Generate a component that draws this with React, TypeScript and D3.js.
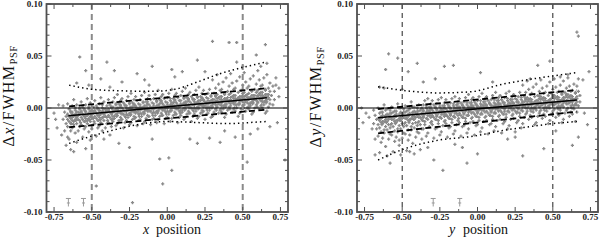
import React from "react";
import * as d3 from "d3";

// ---------- data ----------
const xMajorTicks = [-0.75, -0.5, -0.25, 0, 0.25, 0.5, 0.75];
const yMajorTicks = [-0.1, -0.05, 0, 0.05, 0.1];
const xDomain = [-0.8, 0.8];
const yDomain = [-0.1, 0.1];

// scatter points, flat pairs: [x in 0.01 units, y in 0.001 units]
const leftPoints = [
  -68,-22,-67,-15,-69,-11,-67,-8,-68,-4,-69,2,
  -65,-30,-64,-22,-66,-18,-64,-15,-65,-13,-66,-11,-64,-10,-65,-8,-66,-6,-64,-4,-65,-1,-66,4,
  -61,-24,-63,-19,-62,-16,-62,-13,-61,-11,-63,-9,-62,-8,-61,-6,-63,-4,-61,-2,-63,2,-62,8,
  -60,-33,-59,-22,-58,-18,-60,-15,-58,-12,-59,-11,-60,-8,-59,-7,-58,-5,-59,-4,-58,-1,-60,3,
  -56,-28,-55,-20,-57,-16,-55,-13,-56,-11,-57,-9,-55,-8,-56,-6,-57,-4,-55,-2,-56,1,-57,6,
  -52,-23,-54,-18,-53,-15,-53,-12,-52,-10,-54,-8,-53,-7,-52,-5,-54,-3,-52,-1,-54,3,-53,9,
  -51,-31,-50,-20,-49,-16,-51,-13,-49,-10,-50,-9,-51,-6,-50,-5,-49,-3,-50,-2,-49,1,-51,5,
  -47,-27,-46,-19,-48,-15,-46,-12,-47,-10,-48,-8,-46,-7,-47,-5,-48,-3,-46,-1,-47,2,-48,7,
  -43,-22,-45,-17,-44,-14,-44,-11,-43,-9,-45,-7,-44,-6,-43,-4,-45,-2,-43,0,-45,4,-44,10,
  -42,-30,-41,-19,-40,-15,-42,-12,-40,-9,-41,-8,-42,-5,-41,-4,-40,-2,-41,-1,-40,2,-42,6,
  -38,-26,-37,-18,-39,-14,-37,-11,-38,-9,-39,-7,-37,-6,-38,-4,-39,-2,-37,0,-38,3,-39,8,
  -34,-17,-36,-13,-35,-10,-35,-8,-34,-6,-36,-4,-35,-3,-34,-1,-36,1,-34,3,-36,6,-35,10,
  -33,-15,-32,-12,-31,-9,-33,-7,-31,-5,-32,-4,-33,-2,-32,0,-31,2,-32,4,-31,7,-33,13,
  -29,-19,-28,-14,-30,-11,-28,-8,-29,-6,-30,-5,-28,-3,-29,-2,-30,0,-28,2,-29,5,-30,9,
  -25,-16,-27,-12,-26,-9,-26,-7,-25,-5,-27,-3,-26,-2,-25,0,-27,2,-25,4,-27,7,-26,11,
  -24,-14,-23,-11,-22,-8,-24,-6,-22,-4,-23,-3,-24,-1,-23,1,-22,3,-23,5,-22,8,-24,14,
  -20,-17,-19,-12,-21,-9,-19,-6,-20,-4,-21,-3,-19,-1,-20,0,-21,2,-19,4,-20,7,-21,11,
  -16,-15,-18,-11,-17,-8,-17,-6,-16,-4,-18,-2,-17,-1,-16,1,-18,3,-16,5,-18,8,-17,12,
  -15,-13,-14,-10,-13,-7,-15,-5,-13,-3,-14,-2,-15,0,-14,2,-13,4,-14,6,-13,9,-15,15,
  -11,-16,-10,-11,-12,-8,-10,-5,-11,-3,-12,-2,-10,0,-11,1,-12,3,-10,5,-11,8,-12,12,
  -7,-14,-9,-10,-8,-7,-8,-5,-7,-3,-9,-1,-8,0,-7,2,-9,4,-7,6,-9,9,-8,13,
  -6,-11,-5,-8,-4,-5,-6,-3,-4,-1,-5,0,-6,2,-5,4,-4,6,-5,8,-4,11,-6,17,
  -2,-15,-1,-10,-3,-7,-1,-4,-2,-2,-3,-1,-1,1,-2,2,-3,4,-1,6,-2,9,-3,13,
  2,-13,0,-9,1,-6,1,-4,2,-2,0,0,1,1,2,3,0,5,2,7,0,10,1,14,
  3,-10,4,-7,5,-4,3,-2,5,0,4,1,3,3,4,5,5,7,4,9,5,12,3,18,
  7,-14,8,-9,6,-6,8,-3,7,-1,6,0,8,2,7,3,6,5,8,7,7,10,6,14,
  11,-11,9,-7,10,-4,10,-2,11,0,9,2,10,3,11,5,9,7,11,9,9,12,10,16,
  12,-9,13,-6,14,-3,12,-1,14,1,13,2,12,4,13,6,14,8,13,10,14,13,12,19,
  16,-13,17,-8,15,-5,17,-2,16,0,15,1,17,3,16,4,15,6,17,8,16,11,15,15,
  20,-10,18,-6,19,-3,19,-1,20,1,18,3,19,4,20,6,18,8,20,10,18,13,19,17,
  21,-8,22,-5,23,-2,21,0,23,2,22,3,21,5,22,7,23,9,22,11,23,14,21,20,
  25,-11,26,-6,24,-3,26,0,25,2,24,3,26,5,25,6,24,8,26,10,25,13,24,17,
  29,-9,27,-5,28,-2,28,0,29,2,27,4,28,5,29,7,27,9,29,11,27,14,28,18,
  30,-8,31,-4,32,-1,30,1,32,3,31,5,30,6,31,8,32,11,31,14,32,19,30,27,
  34,-5,35,-2,33,1,35,3,34,5,33,7,35,8,34,10,33,13,35,17,34,23,33,32,
  38,-9,36,-4,37,-1,37,2,38,3,36,5,37,7,38,9,36,11,38,14,36,18,37,25,
  39,-6,40,-2,41,1,39,3,41,5,40,7,39,8,40,10,41,13,40,16,41,21,39,29,
  43,-4,44,-1,42,2,44,4,43,6,42,8,44,9,43,11,42,14,44,18,43,24,42,33,
  47,-8,45,-3,46,0,46,3,47,4,45,6,46,8,47,10,45,12,47,15,45,19,46,26,
  48,-5,49,-1,50,2,48,4,50,6,49,8,48,9,49,11,50,14,49,17,50,22,48,30,
  52,-3,53,0,51,3,53,5,52,7,51,9,53,10,52,12,51,15,53,19,52,25,51,34,
  56,-6,54,-1,55,2,55,5,56,6,54,8,55,10,56,12,54,14,56,17,54,21,55,28,
  57,-4,58,0,59,3,57,5,59,7,58,9,57,10,58,12,59,15,58,18,59,23,57,31,
  61,-1,62,2,60,5,62,7,61,9,60,11,62,12,61,14,60,17,62,21,61,27,60,36,
  65,-5,63,0,64,3,64,6,65,7,63,9,64,11,65,13,63,15,65,18,63,22,64,29,
  66,-3,67,1,68,4,66,6,68,8,67,10,66,11,67,13,68,16,67,19,68,24,66,32,
  70,3,71,8,69,12,71,16,70,21,72,29,
];
// dense core of the left cloud
const leftCore = [
  -63.5,-15,-63,-12,-64,-9,-63,-6,-64,-3,
  -60.5,-12,-60,-9,-61,-6,-60,-4,-61,0,
  -57.5,-14,-57,-9,-58,-6,-57,-3,-58,0,
  -54.5,-13,-54,-10,-55,-7,-54,-4,-55,-1,
  -51.5,-11,-51,-8,-52,-5,-51,-3,-52,1,
  -48.5,-13,-48,-8,-49,-5,-48,-2,-49,1,
  -45.5,-12,-45,-9,-46,-6,-45,-3,-46,0,
  -42.5,-9,-42,-6,-43,-3,-42,-1,-43,3,
  -39.5,-12,-39,-7,-40,-4,-39,-1,-40,2,
  -36.5,-11,-36,-8,-37,-5,-36,-2,-37,1,
  -33.5,-8,-33,-5,-34,-2,-33,0,-34,4,
  -30.5,-11,-30,-6,-31,-3,-30,0,-31,3,
  -27.5,-9,-27,-6,-28,-3,-27,0,-28,3,
  -24.5,-7,-24,-4,-25,-1,-24,1,-25,5,
  -21.5,-10,-21,-5,-22,-2,-21,1,-22,4,
  -18.5,-8,-18,-5,-19,-2,-18,1,-19,4,
  -15.5,-6,-15,-3,-16,0,-15,2,-16,6,
  -12.5,-8,-12,-3,-13,0,-12,3,-13,6,
  -9.5,-7,-9,-4,-10,-1,-9,2,-10,5,
  -6.5,-5,-6,-2,-7,1,-6,3,-7,7,
  -3.5,-7,-3,-2,-4,1,-3,4,-4,7,
  -0.5,-6,0,-3,-1,0,0,3,-1,6,
  2.5,-3,3,0,2,3,3,5,2,9,
  5.5,-6,6,-1,5,2,6,5,5,8,
  8.5,-5,9,-2,8,1,9,4,8,7,
  11.5,-2,12,1,11,4,12,6,11,10,
  14.5,-5,15,0,14,3,15,6,14,9,
  17.5,-3,18,0,17,3,18,6,17,9,
  20.5,-1,21,2,20,5,21,7,20,11,
  23.5,-4,24,1,23,4,24,7,23,10,
  26.5,-2,27,1,26,4,27,7,26,10,
  29.5,0,30,3,29,6,30,8,29,12,
  32.5,-2,33,3,32,6,33,9,32,12,
  35.5,-1,36,2,35,5,36,8,35,11,
  38.5,1,39,4,38,7,39,9,38,13,
  41.5,-1,42,4,41,7,42,10,41,13,
  44.5,0,45,3,44,6,45,9,44,12,
  47.5,3,48,6,47,9,48,11,47,15,
  50.5,0,51,5,50,8,51,11,50,14,
  53.5,1,54,4,53,7,54,10,53,13,
  56.5,4,57,7,56,10,57,12,56,16,
  59.5,1,60,6,59,9,60,12,59,15,
  62.5,3,63,6,62,9,63,12,62,15,
  65.5,5,66,8,65,11,66,13,65,17,
];
const leftOutliers = [
  -58,49,-40,44,-54,36,-35,36,-20,33,-10,40,3,37,10,35,20,46,30,64,41,63,46,63,65,61,59,51,46,44,66,43,
  74,19,74,11,78,-50,-5,-49,1,-48,3,-60,-3,-73,-47,-75,-23,-91,-62,-42,-54,-39,53,-52,20,-34,28,-29,
  -32,-34,-75,-5,-73,-19,-70,-26,-72,3,-74,-11,-44,28,-30,25,-15,27,5,30,15,-30,35,-33,45,-28,-25,-38,
  -10,-30,60,-20,68,-18,72,22,73,-14,-67,-36,-64,-40,-60,24,-52,22,-38,20,-12,22,38,-22,55,-25,50,40,
  25,35,62,40,-66,-28,
];

const rightPoints = [
  -68,-30,-67,-20,-69,-15,-67,-11,-68,-7,-69,-2,
  -65,-43,-64,-33,-66,-27,-64,-23,-65,-19,-66,-16,-64,-14,-65,-12,-66,-10,-64,-8,-65,-5,-66,0,
  -61,-37,-63,-29,-62,-24,-62,-21,-61,-18,-63,-15,-62,-13,-61,-11,-63,-9,-61,-7,-63,-4,-62,3,
  -60,-46,-59,-30,-58,-25,-60,-21,-58,-19,-59,-16,-60,-13,-59,-11,-58,-9,-59,-7,-58,-5,-60,-1,
  -56,-42,-55,-32,-57,-26,-55,-22,-56,-18,-57,-15,-55,-13,-56,-11,-57,-9,-55,-7,-56,-4,-57,1,
  -52,-36,-54,-28,-53,-23,-53,-20,-52,-17,-54,-14,-53,-12,-52,-10,-54,-8,-52,-6,-54,-3,-53,4,
  -51,-45,-50,-29,-49,-24,-51,-20,-49,-18,-50,-15,-51,-12,-50,-10,-49,-8,-50,-6,-49,-4,-51,0,
  -47,-41,-46,-31,-48,-25,-46,-21,-47,-17,-48,-14,-46,-12,-47,-10,-48,-8,-46,-6,-47,-3,-48,2,
  -43,-34,-45,-26,-44,-21,-44,-18,-43,-15,-45,-12,-44,-10,-43,-8,-45,-6,-43,-4,-45,-1,-44,6,
  -42,-44,-41,-28,-40,-23,-42,-19,-40,-17,-41,-14,-42,-11,-41,-9,-40,-7,-41,-5,-40,-3,-42,1,
  -38,-40,-37,-30,-39,-24,-37,-20,-38,-16,-39,-13,-37,-11,-38,-9,-39,-7,-37,-5,-38,-2,-39,3,
  -34,-27,-36,-20,-35,-16,-35,-13,-34,-10,-36,-8,-35,-6,-34,-4,-36,-2,-34,0,-36,3,-35,7,
  -33,-24,-32,-18,-31,-14,-33,-11,-31,-9,-32,-7,-33,-5,-32,-3,-31,-1,-32,1,-31,4,-33,9,
  -29,-29,-28,-20,-30,-16,-28,-11,-29,-9,-30,-7,-28,-5,-29,-4,-30,-2,-28,0,-29,3,-30,7,
  -25,-26,-27,-19,-26,-15,-26,-12,-25,-9,-27,-7,-26,-5,-25,-3,-27,-1,-25,1,-27,4,-26,8,
  -24,-23,-23,-17,-22,-13,-24,-10,-22,-8,-23,-6,-24,-4,-23,-2,-22,0,-23,2,-22,5,-24,10,
  -20,-28,-19,-19,-21,-15,-19,-10,-20,-8,-21,-6,-19,-4,-20,-3,-21,-1,-19,1,-20,4,-21,8,
  -16,-25,-18,-18,-17,-14,-17,-11,-16,-8,-18,-6,-17,-4,-16,-2,-18,0,-16,2,-18,5,-17,9,
  -15,-22,-14,-16,-13,-12,-15,-9,-13,-7,-14,-5,-15,-3,-14,-1,-13,1,-14,3,-13,6,-15,11,
  -11,-27,-10,-18,-12,-14,-10,-9,-11,-7,-12,-5,-10,-3,-11,-2,-12,0,-10,2,-11,5,-12,9,
  -7,-24,-9,-17,-8,-13,-8,-10,-7,-7,-9,-5,-8,-3,-7,-1,-9,1,-7,3,-9,6,-8,10,
  -6,-20,-5,-14,-4,-10,-6,-7,-4,-5,-5,-3,-6,-1,-5,1,-4,3,-5,5,-4,8,-6,13,
  -2,-26,-1,-17,-3,-13,-1,-8,-2,-6,-3,-4,-1,-2,-2,-1,-3,1,-1,3,-2,6,-3,10,
  2,-23,0,-16,1,-12,1,-9,2,-6,0,-4,1,-2,2,0,0,2,2,4,0,7,1,11,
  3,-19,4,-13,5,-9,3,-6,5,-4,4,-2,3,0,4,2,5,4,4,6,5,9,3,14,
  7,-25,8,-16,6,-12,8,-7,7,-5,6,-3,8,-1,7,0,6,2,8,4,7,7,6,11,
  11,-22,9,-15,10,-11,10,-8,11,-5,9,-3,10,-1,11,1,9,3,11,5,9,8,10,12,
  12,-18,13,-12,14,-8,12,-5,14,-3,13,-1,12,1,13,3,14,5,13,7,14,10,12,15,
  16,-24,17,-15,15,-11,17,-6,16,-4,15,-2,17,0,16,1,15,3,17,5,16,8,15,12,
  20,-20,18,-13,19,-9,19,-6,20,-3,18,-1,19,1,20,3,18,5,20,7,18,10,19,14,
  21,-17,22,-11,23,-7,21,-4,23,-2,22,0,21,2,22,4,23,6,22,8,23,11,21,16,
  25,-23,26,-14,24,-10,26,-5,25,-3,24,-1,26,1,25,2,24,4,26,6,25,9,24,13,
  29,-19,27,-12,28,-8,28,-5,29,-2,27,0,28,2,29,4,27,6,29,8,27,11,28,15,
  30,-15,31,-9,32,-6,30,-3,32,0,31,2,30,4,31,6,32,8,31,11,32,15,30,22,
  34,-11,35,-7,33,-3,35,-1,34,2,33,4,35,6,34,8,33,10,35,13,34,18,33,26,
  38,-16,36,-9,37,-4,37,-1,38,1,36,3,37,4,38,6,36,8,38,11,36,14,37,20,
  39,-14,40,-8,41,-5,39,-2,41,1,40,3,39,5,40,7,41,9,40,12,41,16,39,23,
  43,-10,44,-6,42,-2,44,0,43,3,42,5,44,7,43,9,42,11,44,14,43,19,42,27,
  47,-15,45,-8,46,-3,46,0,47,2,45,4,46,5,47,7,45,9,47,12,45,15,46,21,
  48,-12,49,-6,50,-3,48,0,50,3,49,5,48,7,49,9,50,11,49,14,50,18,48,25,
  52,-9,53,-5,51,-1,53,1,52,4,51,6,53,8,52,10,51,12,53,15,52,20,51,28,
  56,-14,54,-7,55,-2,55,1,56,3,54,5,55,6,56,8,54,10,56,13,54,16,55,22,
  57,-11,58,-5,59,-2,57,1,59,4,58,6,57,8,58,10,59,12,58,15,59,19,57,26,
  61,-8,62,-4,60,0,62,2,61,5,60,7,62,9,61,11,60,13,62,16,61,21,60,29,
  65,-13,63,-6,64,-1,64,2,65,4,63,6,64,7,65,9,63,11,65,14,63,17,64,23,
  66,-4,67,2,68,6,66,9,68,12,67,16,66,21,67,28,
];
// dense core of the right cloud
const rightCore = [
  -63.5,-16,-63,-13,-64,-10,-63,-7,-64,-4,
  -60.5,-14,-60,-11,-61,-8,-60,-6,-61,-2,
  -57.5,-16,-57,-11,-58,-8,-57,-5,-58,-2,
  -54.5,-15,-54,-12,-55,-9,-54,-6,-55,-3,
  -51.5,-12,-51,-9,-52,-6,-51,-4,-52,0,
  -48.5,-15,-48,-10,-49,-7,-48,-4,-49,-1,
  -45.5,-14,-45,-11,-46,-8,-45,-5,-46,-2,
  -42.5,-11,-42,-8,-43,-5,-42,-3,-43,1,
  -39.5,-14,-39,-9,-40,-6,-39,-3,-40,0,
  -36.5,-12,-36,-9,-37,-6,-36,-3,-37,0,
  -33.5,-10,-33,-7,-34,-4,-33,-2,-34,2,
  -30.5,-13,-30,-8,-31,-5,-30,-2,-31,1,
  -27.5,-11,-27,-8,-28,-5,-27,-2,-28,1,
  -24.5,-9,-24,-6,-25,-3,-24,-1,-25,3,
  -21.5,-12,-21,-7,-22,-4,-21,-1,-22,2,
  -18.5,-10,-18,-7,-19,-4,-18,-1,-19,2,
  -15.5,-8,-15,-5,-16,-2,-15,0,-16,4,
  -12.5,-10,-12,-5,-13,-2,-12,1,-13,4,
  -9.5,-9,-9,-6,-10,-3,-9,0,-10,3,
  -6.5,-7,-6,-4,-7,-1,-6,1,-7,5,
  -3.5,-9,-3,-4,-4,-1,-3,2,-4,5,
  -0.5,-8,0,-5,-1,-2,0,1,-1,4,
  2.5,-5,3,-2,2,1,3,3,2,7,
  5.5,-8,6,-3,5,0,6,3,5,6,
  8.5,-7,9,-4,8,-1,9,2,8,5,
  11.5,-4,12,-1,11,2,12,4,11,8,
  14.5,-7,15,-2,14,1,15,4,14,7,
  17.5,-6,18,-3,17,0,18,3,17,6,
  20.5,-3,21,0,20,3,21,5,20,9,
  23.5,-6,24,-1,23,2,24,5,23,8,
  26.5,-4,27,-1,26,2,27,5,26,8,
  29.5,-2,30,1,29,4,30,6,29,10,
  32.5,-5,33,0,32,3,33,6,32,9,
  35.5,-3,36,0,35,3,36,6,35,9,
  38.5,-1,39,2,38,5,39,7,38,11,
  41.5,-3,42,2,41,5,42,8,41,11,
  44.5,-2,45,1,44,4,45,7,44,10,
  47.5,0,48,3,47,6,48,8,47,12,
  50.5,-2,51,3,50,6,51,9,50,12,
  53.5,-1,54,2,53,5,54,8,53,11,
  56.5,2,57,5,56,8,57,10,56,14,
  59.5,-1,60,4,59,7,60,10,59,13,
  62.5,0,63,3,62,6,63,9,62,12,
  65.5,3,66,6,65,9,66,11,65,15,
];
const rightOutliers = [
  -59,52,-53,48,-61,37,-40,43,-46,35,-28,28,-22,40,-16,41,2,34,40,41,48,45,66,73,67,69,74,35,73,-16,
  67,-28,63,-36,44,-39,30,-46,0,-44,-7,-53,-29,-50,-23,-60,-52,-31,-77,0,-76,-14,-74,-5,-68,-45,
  -58,-53,-70,-20,-72,-9,-65,20,-62,19,-36,25,-10,-38,20,-30,70,27,71,-5,55,30,60,32,-45,-42,-33,-38,
  10,25,35,28,-50,18,52,-22,25,-28,-15,-35,
];

// fitted relations [x, y]
const leftFit = [[-0.655, -0.0075], [0.66, 0.0099]];
const leftDashHi = [[-0.65, 0.0015], [0.66, 0.019]];
const leftDashLo = [[-0.65, -0.0185], [0.66, -0.0015]];
const leftDotHi = [[-0.65, 0.022], [-0.5, 0.018], [-0.3, 0.0165], [-0.1, 0.016], [0.05, 0.018], [0.2, 0.025], [0.35, 0.033], [0.5, 0.039], [0.65, 0.044]];
const leftDotLo = [[-0.65, -0.034], [-0.5, -0.027], [-0.35, -0.021], [-0.2, -0.016], [0, -0.013], [0.2, -0.014], [0.4, -0.015], [0.6, -0.0135], [0.66, -0.013]];

const rightFit = [[-0.66, -0.0093], [0.66, 0.0077]];
const rightDashHi = [[-0.66, -0.001], [0.66, 0.0173]];
const rightDashLo = [[-0.66, -0.0244], [0.66, -0.0035]];
const rightDotHi = [[-0.66, 0.0205], [-0.48, 0.0167], [-0.26, 0.0145], [-0.05, 0.0155], [0.17, 0.023], [0.39, 0.0285], [0.66, 0.034]];
const rightDotLo = [[-0.66, -0.05], [-0.48, -0.039], [-0.26, -0.031], [-0.02, -0.027], [0.15, -0.022], [0.37, -0.0175], [0.5, -0.015], [0.66, -0.013]];

// upper-limit markers (x positions) at y = -0.087
const leftLimits = [-0.655, -0.555];
const rightLimits = [-0.294, -0.118];
const limitY = -0.087;

const cutLines = [-0.5, 0.5];

const SERIF = "Liberation Serif";
const FRAME = "#505050";
const PTS = "#8a8a8a";

function Panel(props: {
  x0: number; x1: number;
  pts: number[];
  fit: number[][]; dHi: number[][]; dLo: number[][]; oHi: number[][]; oLo: number[][];
  limits: number[];
  cutStyle: { stroke: string; width: number; dash: string };
  varName: string;
  ylab: { x: number; y: number };
  xlab: { vx: number; px: number };
}) {
  const { x0, x1 } = props;
  const y0 = 4, y1 = 212;
  const x = d3.scaleLinear().domain(xDomain).range([x0, x1]);
  const y = d3.scaleLinear().domain(yDomain).range([y1, y0]);
  const line = d3.line<number[]>().x((d) => x(d[0])).y((d) => y(d[1]));
  const curve = d3.line<number[]>().x((d) => x(d[0])).y((d) => y(d[1])).curve(d3.curveMonotoneX);

  const all = props.pts;
  let dp = "";
  for (let i = 0; i < all.length; i += 2) {
    const px = x(all[i] / 100), py = y(all[i + 1] / 1000);
    dp += `M${(px - 1.6).toFixed(1)},${py.toFixed(1)}h3.2M${px.toFixed(1)},${(py - 1.6).toFixed(1)}v3.2`;
  }

  const xMinor = d3.range(-0.75, 0.76, 0.125);
  const yMinor = d3.range(-0.1, 0.1001, 0.01);
  const isMajorY = (v: number) => Math.abs(Math.round(v * 100) % 5) === 0;
  const isMajorX = (v: number) => Math.abs(Math.round(v * 8) % 2) === 0;
  const fmt = (v: number) => d3.format(".2f")(v).replace("\u2212", "-");

  return (
    <g>
      <path d={dp} stroke={PTS} strokeWidth={1.3} fill="none" />
      <line x1={x0} x2={x1} y1={y(0)} y2={y(0)} stroke="#000" strokeWidth={1} />
      {cutLines.map((c) => (
        <line key={c} x1={x(c)} x2={x(c)} y1={y0} y2={y1} stroke={props.cutStyle.stroke}
          strokeWidth={props.cutStyle.width} strokeDasharray={props.cutStyle.dash} />
      ))}
      <path d={line(props.fit) || ""} stroke="#000" strokeWidth={1.6} fill="none" />
      <path d={line(props.dHi) || ""} stroke="#000" strokeWidth={1.8} strokeDasharray="6 3.5" fill="none" />
      <path d={line(props.dLo) || ""} stroke="#000" strokeWidth={1.8} strokeDasharray="6 3.5" fill="none" />
      <path d={curve(props.oHi) || ""} stroke="#000" strokeWidth={1.5} strokeDasharray="1.4 3" fill="none" />
      <path d={curve(props.oLo) || ""} stroke="#000" strokeWidth={1.5} strokeDasharray="1.4 3" fill="none" />
      {props.limits.map((l) => {
        const lx = x(l), ly = y(limitY);
        return (
          <g key={l} stroke="#9a9a9a" strokeWidth={1} fill="none">
            <line x1={lx - 2.5} x2={lx + 2.5} y1={ly} y2={ly} />
            <line x1={lx} x2={lx} y1={ly} y2={ly + 8} />
            <line x1={lx - 1.5} x2={lx + 1.5} y1={ly + 4.5} y2={ly + 4.5} />
          </g>
        );
      })}
      <rect x={x0} y={y0} width={x1 - x0} height={y1 - y0} fill="none" stroke={FRAME} strokeWidth={1.8} />
      <g stroke={FRAME} strokeWidth={1}>
        {xMinor.map((v) => {
          const t = isMajorX(v) ? 5 : 3;
          return (
            <g key={"x" + v}>
              <line x1={x(v)} x2={x(v)} y1={y1} y2={y1 - t} />
              <line x1={x(v)} x2={x(v)} y1={y0} y2={y0 + t} />
            </g>
          );
        })}
        {yMinor.map((v) => {
          const t = isMajorY(v) ? 5 : 3;
          return (
            <g key={"y" + v}>
              <line x1={x0} x2={x0 + t} y1={y(v)} y2={y(v)} />
              <line x1={x1} x2={x1 - t} y1={y(v)} y2={y(v)} />
            </g>
          );
        })}
      </g>
      <g style={{ fontFamily: SERIF, fontSize: "9px", fontWeight: "bold" }} fill="#222">
        {xMajorTicks.map((v) => (
          <text key={"xl" + v} x={x(v)} y={y1 + 7.5} textAnchor="middle">{fmt(v)}</text>
        ))}
        {yMajorTicks.map((v) => (
          <text key={"yl" + v} x={x0 - 4} y={y(v) + 3} textAnchor="end">{fmt(v)}</text>
        ))}
      </g>
      <g style={{ fontFamily: SERIF, fontSize: "14px" }} fill="#111">
        <text x={props.xlab.vx} y={234} fontStyle="italic">{props.varName}</text>
        <text x={props.xlab.px} y={234}>position</text>
        <text transform={`translate(${props.ylab.x},${props.ylab.y}) rotate(-90)`} textAnchor="middle"
          style={{ fontFamily: SERIF, fontSize: "16px", letterSpacing: "1.5px" }}>
          <tspan>Δ</tspan>
          <tspan fontStyle="italic">{props.varName}</tspan>
          <tspan>/FWHM</tspan>
          <tspan style={{ fontSize: "10.5px", letterSpacing: "0.5px" }} dy={2.5}>PSF</tspan>
        </text>
      </g>
    </g>
  );
}

export default function App() {
  return (
    <svg width={600} height={240} style={{ position: "absolute", left: 0, top: 0, background: "#fff" }}>
      <rect width={600} height={240} fill="#fff" />
      <Panel x0={46.5} x1={288} pts={leftPoints.concat(leftCore, leftOutliers)}
        fit={leftFit} dHi={leftDashHi} dLo={leftDashLo} oHi={leftDotHi} oLo={leftDotLo}
        limits={leftLimits}
        cutStyle={{ stroke: "#8a8a8a", width: 2, dash: "6 4" }}
        varName="x" ylab={{ x: 14, y: 96 }} xlab={{ vx: 143, px: 156 }} />
      <Panel x0={357} x1={598} pts={rightPoints.concat(rightCore, rightOutliers)}
        fit={rightFit} dHi={rightDashHi} dLo={rightDashLo} oHi={rightDotHi} oLo={rightDotLo}
        limits={rightLimits}
        cutStyle={{ stroke: "#222", width: 1, dash: "5 4" }}
        varName="y" ylab={{ x: 321, y: 97 }} xlab={{ vx: 449, px: 463 }} />
    </svg>
  );
}
